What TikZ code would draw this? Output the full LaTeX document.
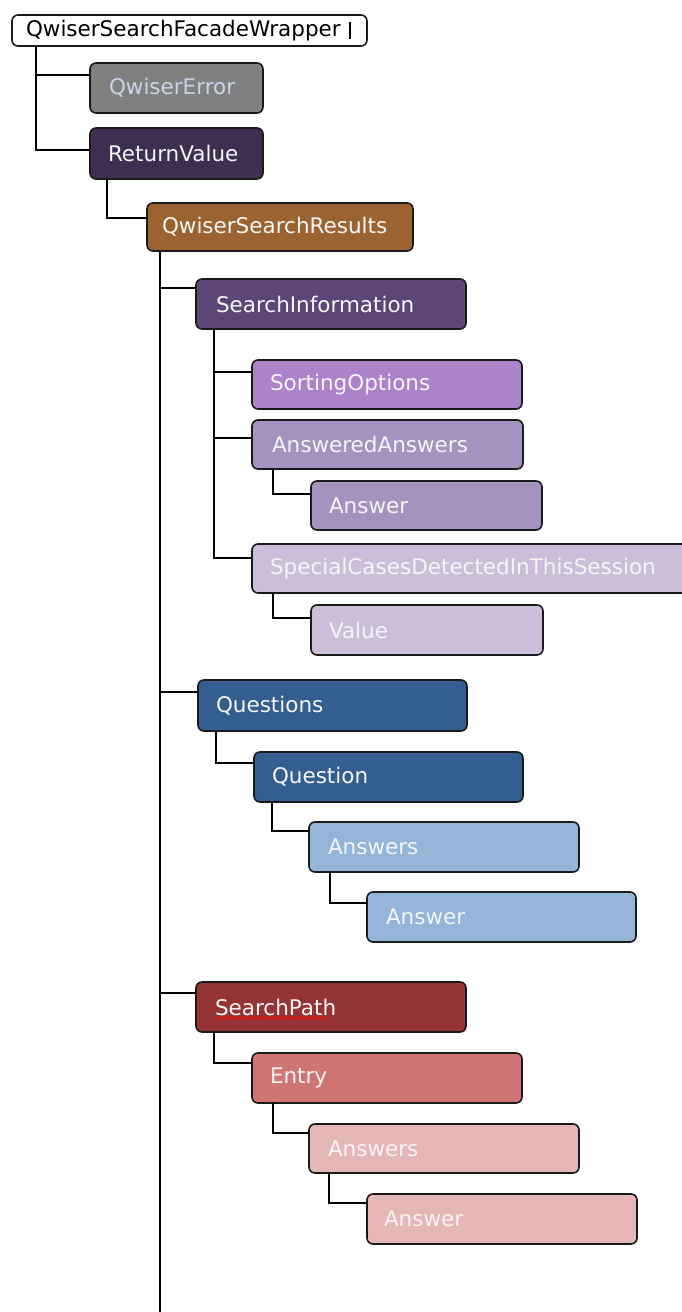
\documentclass[tikz,border=0pt]{standalone}
\usepackage{fontspec}
\setmainfont{DejaVu Sans}
\definecolor{boxline}{HTML}{1A1A1A}
\definecolor{cgray}{HTML}{808080}
\definecolor{cgraytext}{HTML}{C8D4EA}
\definecolor{cret}{HTML}{3E2F50}
\definecolor{cqsr}{HTML}{9B6331}
\definecolor{csi}{HTML}{5C4677}
\definecolor{cso}{HTML}{AC82C8}
\definecolor{caa}{HTML}{A592BE}
\definecolor{csc}{HTML}{CCBED9}
\definecolor{cq}{HTML}{335E8F}
\definecolor{cqa}{HTML}{94B4D8}
\definecolor{csp}{HTML}{943434}
\definecolor{cen}{HTML}{CF7674}
\definecolor{cpa}{HTML}{E6B7B7}
\definecolor{spell}{HTML}{E01010}
\tikzset{
  box/.style={draw=boxline, line width=1.6pt, rounded corners=6pt, anchor=north west,
    align=left, inner xsep=18pt, inner ysep=0pt, outer sep=0pt,
    font=\fontsize{21.5}{24}\selectfont, text=white!96!black},
  link/.style={draw=black, line width=1.6pt}
}
\begin{document}
\begin{tikzpicture}[x=1pt,y=-1pt]
\useasboundingbox (0,0) rectangle (681,1312);
% nodes
\node[box, fill=white, text=black, inner xsep=14pt, text width=327pt, minimum height=31pt] (wrap) at (12,15) {QwiserSearchFacadeWrapper};
\node[box, fill=cgray, text=cgraytext, inner xsep=19pt, text width=135pt, minimum height=50pt] (qerr) at (90,63) {QwiserError};
\node[box, fill=cret, text width=137pt, minimum height=51pt] (ret) at (90,128) {ReturnValue};
\node[box, fill=cqsr, inner xsep=15pt, text width=236pt, minimum height=48pt] (qsr) at (147,203) {QwiserSearchResults};
\node[box, fill=csi, inner xsep=20pt, text width=230pt, minimum height=50pt] (si) at (196,279) {SearchInformation};
\node[box, fill=cso, text width=234pt, minimum height=49pt] (so) at (252,360) {SortingOptions};
\node[box, fill=caa, inner xsep=20pt, text width=231pt, minimum height=49pt] (aa) at (252,420) {AnsweredAnswers};
\node[box, fill=caa, text width=195pt, minimum height=49pt] (an1) at (311,481) {Answer};
\node[box, fill=csc, text width=404pt, minimum height=49pt] (sc) at (252,544) {SpecialCasesDetectedInThisSession};
\node[box, fill=csc, text width=196pt, minimum height=50pt] (val) at (311,605) {Value};
\node[box, fill=cq, text width=233pt, minimum height=51pt] (qs) at (198,680) {Questions};
\node[box, fill=cq, text width=233pt, minimum height=50pt] (q) at (254,752) {Question};
\node[box, fill=cqa, inner xsep=19pt, text width=232pt, minimum height=50pt] (as2) at (309,822) {Answers};
\node[box, fill=cqa, inner xsep=19pt, text width=231pt, minimum height=50pt] (an2) at (367,892) {Answer};
\node[box, fill=csp, inner xsep=19pt, text width=232pt, minimum height=50pt] (sp) at (196,982) {SearchPath};
\node[box, fill=cen, text width=234pt, minimum height=50pt] (en) at (252,1053) {Entry};
\node[box, fill=cpa, inner xsep=19pt, text width=232pt, minimum height=49pt] (as3) at (309,1124) {Answers};
\node[box, fill=cpa, inner xsep=17pt, text width=236pt, minimum height=50pt] (an3) at (367,1194) {Answer};
% text cursor and spell-check mark
\draw[line width=2.5pt, black] ([xshift=-17pt,yshift=9pt]wrap.east) -- ([xshift=-17pt,yshift=-8pt]wrap.east);
\begin{scope}[shift={(sp.north west)}]
  \draw[spell, line width=1.1pt] plot[domain=20:131, samples=120, smooth] (\x, {36+1.3*sin(\x*100)});
\end{scope}
% connectors
\coordinate (trunkend) at (160,1312);
\draw[link] ([xshift=24pt]wrap.south west) |- ([yshift=-12pt]qerr.north west);
\draw[link] ([xshift=24pt]wrap.south west) |- ([yshift=-22pt]ret.north west);
\draw[link] ([xshift=17pt]ret.south west) |- ([yshift=-15pt]qsr.north west);
\draw[link] ([xshift=13pt]qsr.south west) -- (trunkend);
\draw[link] ([xshift=13pt]qsr.south west) |- ([yshift=-9pt]si.north west);
\draw[link] ([xshift=13pt]qsr.south west) |- ([yshift=-12pt]qs.north west);
\draw[link] ([xshift=13pt]qsr.south west) |- ([yshift=-11pt]sp.north west);
\draw[link] ([xshift=18pt]si.south west) |- ([yshift=-12pt]so.north west);
\draw[link] ([xshift=18pt]si.south west) |- ([yshift=-18pt]aa.north west);
\draw[link] ([xshift=18pt]si.south west) |- ([yshift=-14pt]sc.north west);
\draw[link] ([xshift=21pt]aa.south west) |- ([yshift=-13pt]an1.north west);
\draw[link] ([xshift=21pt]sc.south west) |- ([yshift=-13pt]val.north west);
\draw[link] ([xshift=18pt]qs.south west) |- ([yshift=-11pt]q.north west);
\draw[link] ([xshift=18pt]q.south west) |- ([yshift=-9pt]as2.north west);
\draw[link] ([xshift=21pt]as2.south west) |- ([yshift=-11pt]an2.north west);
\draw[link] ([xshift=18pt]sp.south west) |- ([yshift=-10pt]en.north west);
\draw[link] ([xshift=21pt]en.south west) |- ([yshift=-9pt]as3.north west);
\draw[link] ([xshift=20pt]as3.south west) |- ([yshift=-9pt]an3.north west);
\end{tikzpicture}
\end{document}
